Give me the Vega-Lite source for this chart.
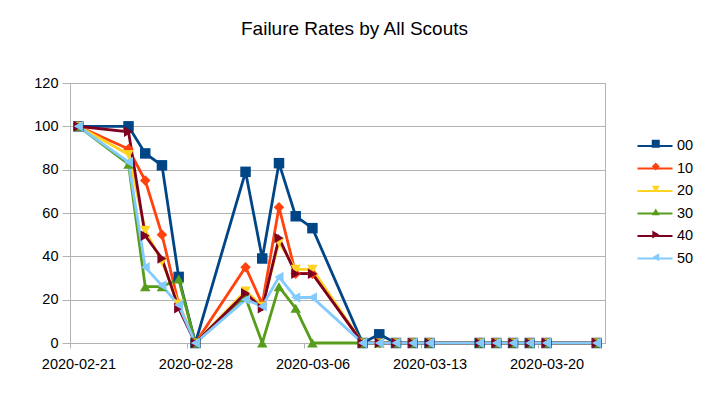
{
  "$schema": "https://vega.github.io/schema/vega-lite/v6.json",
  "width": 535,
  "height": 260,
  "autosize": "none",
  "padding": {"left": 70, "top": 83, "right": 105, "bottom": 56},
  "background": "white",
  "title": {
    "text": "Failure Rates by All Scouts",
    "font": "Liberation Sans",
    "fontSize": 19,
    "fontWeight": "normal",
    "color": "#000000",
    "anchor": "middle",
    "frame": "group",
    "dx": 17,
    "offset": 36
  },
  "config": {
    "view": {"stroke": "#b3b3b3", "strokeWidth": 1},
    "font": "Liberation Sans"
  },
  "data": {
    "values": [
      {"date": "2020-02-21", "series": "00", "value": 100},
      {"date": "2020-02-24", "series": "00", "value": 100},
      {"date": "2020-02-25", "series": "00", "value": 87.5},
      {"date": "2020-02-26", "series": "00", "value": 82},
      {"date": "2020-02-27", "series": "00", "value": 30.5},
      {"date": "2020-02-28", "series": "00", "value": 0},
      {"date": "2020-03-02", "series": "00", "value": 79},
      {"date": "2020-03-03", "series": "00", "value": 39},
      {"date": "2020-03-04", "series": "00", "value": 83},
      {"date": "2020-03-05", "series": "00", "value": 58.5},
      {"date": "2020-03-06", "series": "00", "value": 53},
      {"date": "2020-03-09", "series": "00", "value": 0},
      {"date": "2020-03-10", "series": "00", "value": 4},
      {"date": "2020-03-11", "series": "00", "value": 0},
      {"date": "2020-03-12", "series": "00", "value": 0},
      {"date": "2020-03-13", "series": "00", "value": 0},
      {"date": "2020-03-16", "series": "00", "value": 0},
      {"date": "2020-03-17", "series": "00", "value": 0},
      {"date": "2020-03-18", "series": "00", "value": 0},
      {"date": "2020-03-19", "series": "00", "value": 0},
      {"date": "2020-03-20", "series": "00", "value": 0},
      {"date": "2020-03-23", "series": "00", "value": 0},

      {"date": "2020-02-21", "series": "10", "value": 100},
      {"date": "2020-02-24", "series": "10", "value": 89.5},
      {"date": "2020-02-25", "series": "10", "value": 75},
      {"date": "2020-02-26", "series": "10", "value": 50},
      {"date": "2020-02-27", "series": "10", "value": 18},
      {"date": "2020-02-28", "series": "10", "value": 0},
      {"date": "2020-03-02", "series": "10", "value": 35},
      {"date": "2020-03-03", "series": "10", "value": 18},
      {"date": "2020-03-04", "series": "10", "value": 62.7},
      {"date": "2020-03-05", "series": "10", "value": 32},
      {"date": "2020-03-06", "series": "10", "value": 32},
      {"date": "2020-03-09", "series": "10", "value": 0},
      {"date": "2020-03-10", "series": "10", "value": 0},
      {"date": "2020-03-11", "series": "10", "value": 0},
      {"date": "2020-03-12", "series": "10", "value": 0},
      {"date": "2020-03-13", "series": "10", "value": 0},
      {"date": "2020-03-16", "series": "10", "value": 0},
      {"date": "2020-03-17", "series": "10", "value": 0},
      {"date": "2020-03-18", "series": "10", "value": 0},
      {"date": "2020-03-19", "series": "10", "value": 0},
      {"date": "2020-03-20", "series": "10", "value": 0},
      {"date": "2020-03-23", "series": "10", "value": 0},

      {"date": "2020-02-21", "series": "20", "value": 100},
      {"date": "2020-02-24", "series": "20", "value": 87},
      {"date": "2020-02-25", "series": "20", "value": 52},
      {"date": "2020-02-26", "series": "20", "value": 37.5},
      {"date": "2020-02-27", "series": "20", "value": 18},
      {"date": "2020-02-28", "series": "20", "value": 0},
      {"date": "2020-03-02", "series": "20", "value": 24},
      {"date": "2020-03-03", "series": "20", "value": 17},
      {"date": "2020-03-04", "series": "20", "value": 46.5},
      {"date": "2020-03-05", "series": "20", "value": 34},
      {"date": "2020-03-06", "series": "20", "value": 34},
      {"date": "2020-03-09", "series": "20", "value": 0},
      {"date": "2020-03-10", "series": "20", "value": 0},
      {"date": "2020-03-11", "series": "20", "value": 0},
      {"date": "2020-03-12", "series": "20", "value": 0},
      {"date": "2020-03-13", "series": "20", "value": 0},
      {"date": "2020-03-16", "series": "20", "value": 0},
      {"date": "2020-03-17", "series": "20", "value": 0},
      {"date": "2020-03-18", "series": "20", "value": 0},
      {"date": "2020-03-19", "series": "20", "value": 0},
      {"date": "2020-03-20", "series": "20", "value": 0},
      {"date": "2020-03-23", "series": "20", "value": 0},

      {"date": "2020-02-21", "series": "30", "value": 100},
      {"date": "2020-02-24", "series": "30", "value": 82.5},
      {"date": "2020-02-25", "series": "30", "value": 26},
      {"date": "2020-02-26", "series": "30", "value": 26},
      {"date": "2020-02-27", "series": "30", "value": 29.5},
      {"date": "2020-02-28", "series": "30", "value": 0},
      {"date": "2020-03-02", "series": "30", "value": 21},
      {"date": "2020-03-03", "series": "30", "value": 0},
      {"date": "2020-03-04", "series": "30", "value": 26},
      {"date": "2020-03-05", "series": "30", "value": 16},
      {"date": "2020-03-06", "series": "30", "value": 0},
      {"date": "2020-03-09", "series": "30", "value": 0},
      {"date": "2020-03-10", "series": "30", "value": 0},
      {"date": "2020-03-11", "series": "30", "value": 0},
      {"date": "2020-03-12", "series": "30", "value": 0},
      {"date": "2020-03-13", "series": "30", "value": 0},
      {"date": "2020-03-16", "series": "30", "value": 0},
      {"date": "2020-03-17", "series": "30", "value": 0},
      {"date": "2020-03-18", "series": "30", "value": 0},
      {"date": "2020-03-19", "series": "30", "value": 0},
      {"date": "2020-03-20", "series": "30", "value": 0},
      {"date": "2020-03-23", "series": "30", "value": 0},

      {"date": "2020-02-21", "series": "40", "value": 100},
      {"date": "2020-02-24", "series": "40", "value": 97.5},
      {"date": "2020-02-25", "series": "40", "value": 49.5},
      {"date": "2020-02-26", "series": "40", "value": 39},
      {"date": "2020-02-27", "series": "40", "value": 16},
      {"date": "2020-02-28", "series": "40", "value": 0},
      {"date": "2020-03-02", "series": "40", "value": 23},
      {"date": "2020-03-03", "series": "40", "value": 16},
      {"date": "2020-03-04", "series": "40", "value": 48.5},
      {"date": "2020-03-05", "series": "40", "value": 32},
      {"date": "2020-03-06", "series": "40", "value": 32},
      {"date": "2020-03-09", "series": "40", "value": 0},
      {"date": "2020-03-10", "series": "40", "value": 0},
      {"date": "2020-03-11", "series": "40", "value": 0},
      {"date": "2020-03-12", "series": "40", "value": 0},
      {"date": "2020-03-13", "series": "40", "value": 0},
      {"date": "2020-03-16", "series": "40", "value": 0},
      {"date": "2020-03-17", "series": "40", "value": 0},
      {"date": "2020-03-18", "series": "40", "value": 0},
      {"date": "2020-03-19", "series": "40", "value": 0},
      {"date": "2020-03-20", "series": "40", "value": 0},
      {"date": "2020-03-23", "series": "40", "value": 0},

      {"date": "2020-02-21", "series": "50", "value": 100},
      {"date": "2020-02-24", "series": "50", "value": 83.5},
      {"date": "2020-02-25", "series": "50", "value": 35},
      {"date": "2020-02-26", "series": "50", "value": 26.5},
      {"date": "2020-02-27", "series": "50", "value": 17.5},
      {"date": "2020-02-28", "series": "50", "value": 0},
      {"date": "2020-03-02", "series": "50", "value": 20},
      {"date": "2020-03-03", "series": "50", "value": 17},
      {"date": "2020-03-04", "series": "50", "value": 30.5},
      {"date": "2020-03-05", "series": "50", "value": 21},
      {"date": "2020-03-06", "series": "50", "value": 21},
      {"date": "2020-03-09", "series": "50", "value": 0},
      {"date": "2020-03-10", "series": "50", "value": 0},
      {"date": "2020-03-11", "series": "50", "value": 0},
      {"date": "2020-03-12", "series": "50", "value": 0},
      {"date": "2020-03-13", "series": "50", "value": 0},
      {"date": "2020-03-16", "series": "50", "value": 0},
      {"date": "2020-03-17", "series": "50", "value": 0},
      {"date": "2020-03-18", "series": "50", "value": 0},
      {"date": "2020-03-19", "series": "50", "value": 0},
      {"date": "2020-03-20", "series": "50", "value": 0},
      {"date": "2020-03-23", "series": "50", "value": 0}
    ]
  },
  "encoding": {
    "x": {
      "field": "date",
      "timeUnit": "utcyearmonthdate",
      "type": "temporal",
      "bandPosition": 0.5,
      "title": null,
      "scale": {
        "domain": [
          {"year": 2020, "month": 2, "date": 21, "utc": true},
          {"year": 2020, "month": 3, "date": 24, "utc": true}
        ],
        "nice": false
      },
      "axis": {
        "values": [
          {"year": 2020, "month": 2, "date": 21, "utc": true},
          {"year": 2020, "month": 2, "date": 28, "utc": true},
          {"year": 2020, "month": 3, "date": 6, "utc": true},
          {"year": 2020, "month": 3, "date": 13, "utc": true},
          {"year": 2020, "month": 3, "date": 20, "utc": true}
        ],
        "format": "%Y-%m-%d",
        "grid": false,
        "domainColor": "#b3b3b3",
        "tickColor": "#b3b3b3",
        "tickSize": 5,
        "labelOffset": 8.4,
        "labelPadding": 9,
        "labelFontSize": 14.5,
        "labelColor": "#000000",
        "labelFont": "Liberation Sans",
        "labelFlush": false,
        "labelOverlap": false
      }
    },
    "y": {
      "field": "value",
      "type": "quantitative",
      "title": null,
      "scale": {"domain": [0, 120], "nice": false},
      "axis": {
        "values": [0, 20, 40, 60, 80, 100, 120],
        "grid": true,
        "gridColor": "#b3b3b3",
        "domainColor": "#b3b3b3",
        "tickColor": "#b3b3b3",
        "tickSize": 8,
        "labelPadding": 4,
        "labelFontSize": 14.5,
        "labelColor": "#000000",
        "labelFont": "Liberation Sans"
      }
    }
  },
  "layer": [
    {
      "mark": {"type": "line", "strokeWidth": 2.8},
      "encoding": {
        "stroke": {
          "field": "series",
          "type": "nominal",
          "scale": {
            "domain": ["00", "10", "20", "30", "40", "50"],
            "range": ["#004586", "#ff420e", "#ffd320", "#579d1c", "#7e0021", "#83caff"]
          },
          "legend": {
            "title": null,
            "orient": "none",
            "legendX": 575,
            "legendY": 53,
            "padding": 0,
            "symbolType": "M-2,0H2",
            "symbolSize": 306,
            "symbolStrokeWidth": 2,
            "labelFontSize": 14.5,
            "labelFont": "Liberation Sans",
            "labelColor": "#000000",
            "labelOffset": 12,
            "rowPadding": 5.5
          }
        }
      }
    },
    {
      "mark": {"type": "point", "filled": true, "opacity": 1, "size": 110, "strokeWidth": 0},
      "encoding": {
        "fill": {
          "field": "series",
          "type": "nominal",
          "scale": {
            "range": ["#004586", "#ff420e", "#ffd320", "#579d1c", "#7e0021", "#83caff"]
          },
          "legend": {
            "title": null,
            "orient": "none",
            "legendX": 578.5,
            "legendY": 53.5,
            "padding": 0,
            "symbolSize": 64,
            "symbolStrokeWidth": 0,
            "symbolOpacity": 1,
            "labelFontSize": 14.5,
            "labelFont": "Liberation Sans",
            "labelExpr": "''",
            "labelOffset": 4,
            "rowPadding": 7.7
          }
        },
        "shape": {
          "field": "series",
          "type": "nominal",
          "scale": {
            "range": ["square", "diamond", "triangle-down", "triangle-up", "triangle-right", "triangle-left"]
          },
          "legend": {
            "title": null,
            "orient": "none",
            "legendX": 578.5,
            "legendY": 53.5,
            "padding": 0,
            "symbolSize": 64,
            "symbolStrokeWidth": 0,
            "symbolOpacity": 1,
            "labelFontSize": 14.5,
            "labelFont": "Liberation Sans",
            "labelExpr": "''",
            "labelOffset": 4,
            "rowPadding": 7.7
          }
        }
      }
    }
  ]
}
